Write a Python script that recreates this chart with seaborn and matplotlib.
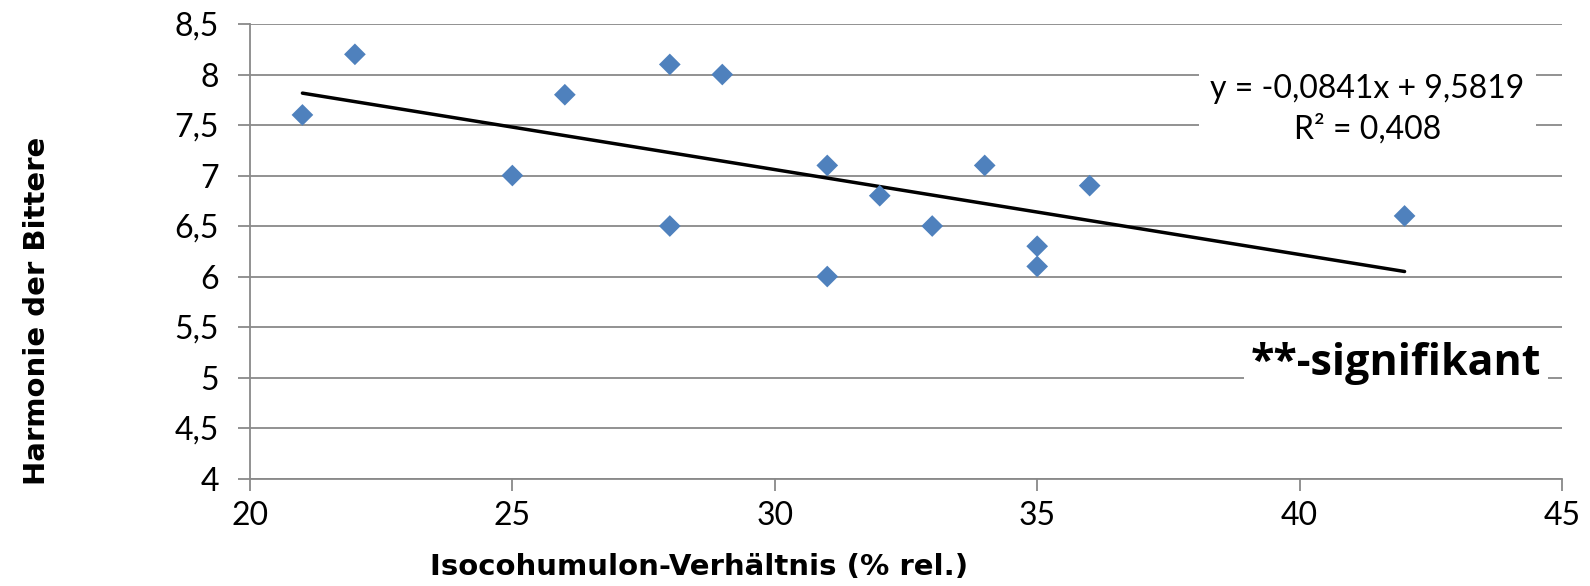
import numpy as np
import pandas as pd
import seaborn as sns
import matplotlib.pyplot as plt

# Values
iso_ratio = [21, 22, 25, 26, 28, 28, 29, 31, 31, 32, 33, 34, 35, 35, 36, 42]
harmony = [7.6, 8.2, 7.0, 7.8, 8.1, 6.5, 8.0, 7.1, 6.0, 6.8, 6.5, 7.1, 6.3, 6.1, 6.9, 6.6]
slope = -0.0841
intercept = 9.5819
x_ticks = [20, 25, 30, 35, 40, 45]
y_ticks = [4, 4.5, 5, 5.5, 6, 6.5, 7, 7.5, 8, 8.5]
y_tick_labels = ['4', '4,5', '5', '5,5', '6', '6,5', '7', '7,5', '8', '8,5']
eq_text = 'y = -0,0841x + 9,5819\nR² = 0,408'
sig_text = '**-signifikant'

df = pd.DataFrame({'iso': iso_ratio, 'harm': harmony})

# linear trendline from the equation shown in the chart, over the data range
trend = pd.DataFrame({'iso': [min(iso_ratio), max(iso_ratio)]})
trend['harm'] = intercept + slope * trend['iso']

sns.set_theme(style='white')
plt.rcParams['font.family'] = ['Lato', 'DejaVu Sans']
plt.rcParams['text.color'] = 'black'

grid_col = '#898989'

fig = plt.figure(figsize=(15.9, 5.86), dpi=100)
ax = fig.add_axes([0.1572, 0.1834, 0.8252, 0.7756])

sns.lineplot(data=trend, x='iso', y='harm', ax=ax, color='black', lw=2.5, zorder=3)
sns.scatterplot(data=df, x='iso', y='harm', ax=ax, marker='D', s=122,
                color='#4F81BD', edgecolor='none', zorder=4)

ax.set_xlim(20, 45)
ax.set_ylim(4, 8.5)
ax.set_xticks(x_ticks)
ax.set_yticks(y_ticks)
ax.set_yticklabels(y_tick_labels)
ax.yaxis.grid(True, color=grid_col, lw=1.3, zorder=0)
ax.set_axisbelow(True)

for s in ['top', 'right']:
    ax.spines[s].set_visible(False)
for s in ['left', 'bottom']:
    ax.spines[s].set_color(grid_col)
    ax.spines[s].set_linewidth(1.3)

ax.tick_params(axis='both', which='major', direction='out', length=8.5, width=1.3,
               color=grid_col, labelsize=23, labelcolor='black',
               left=True, bottom=True)
ax.tick_params(axis='y', pad=14)
ax.tick_params(axis='x', pad=8)

ax.set_xlabel('Isocohumulon-Verhältnis (% rel.)', fontsize=21, fontweight='bold',
              family='DejaVu Sans', color='black')
ax.xaxis.set_label_coords(0.3426, -0.163)
ax.set_ylabel('Harmonie der Bittere', fontsize=21, fontweight='bold',
              family='DejaVu Sans', color='black')
ax.yaxis.set_label_coords(-0.152, 0.368)

ax.text(41.29, 7.656, eq_text, ha='center', va='center', fontsize=23,
        linespacing=1.45, zorder=5,
        bbox=dict(facecolor='white', edgecolor='none', pad=8))
ax.text(41.84, 5.025, sig_text, ha='center', va='baseline', fontsize=31,
        fontweight='bold', family=['Open Sans', 'DejaVu Sans'], zorder=5,
        bbox=dict(facecolor='white', edgecolor='none', pad=5))

fig.savefig('out.png', dpi=100)
